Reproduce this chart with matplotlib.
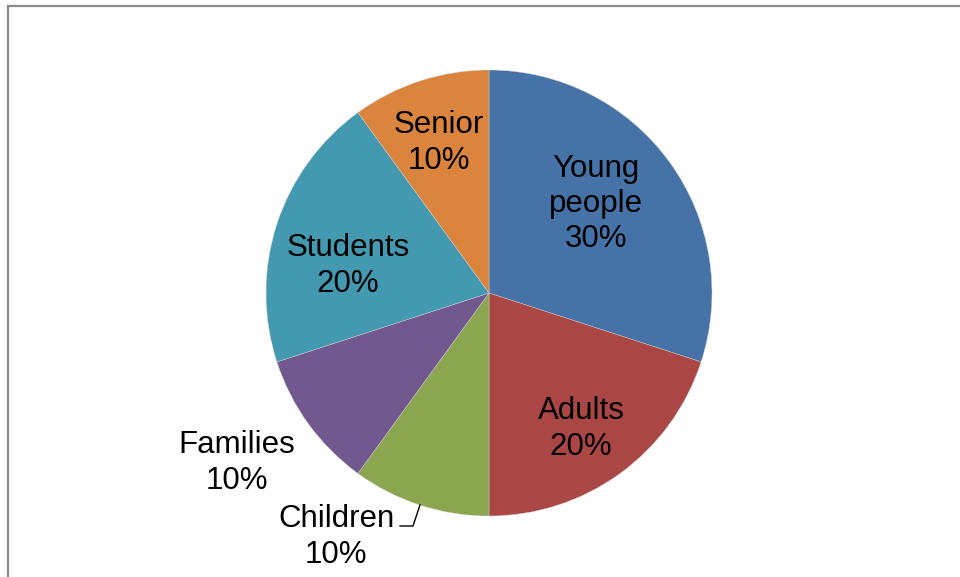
import matplotlib.pyplot as plt
from matplotlib.lines import Line2D

# audience shares
segments = ['Young\npeople', 'Adults', 'Children', 'Families', 'Students', 'Senior']
shares = [30, 20, 10, 10, 20, 10]
colors = ['#4673A7', '#AA4644', '#8AA64F', '#71588F', '#4399B0', '#DB843D']

# label anchor points (pixels from top-left)
label_xy = [(596, 204), (581, 429), (336, 537), (237, 463), (348, 266), (439, 143)]

W, H = 960, 577
fig = plt.figure(figsize=(W / 100, H / 100), dpi=100)
ax = fig.add_axes([0, 0, 1, 1])

cx, cy, r = 489, H - 293, 223
ax.pie(shares, colors=colors, startangle=90, counterclock=False,
       center=(cx, cy), radius=r, frame=True,
       wedgeprops=dict(edgecolor='#d0d0d0', linewidth=0.3))
ax.set_xlim(0, W)
ax.set_ylim(0, H)
ax.set_aspect('equal')
ax.axis('off')

for name, val, (x, y) in zip(segments, shares, label_xy):
    ax.text(x, H - y, f'{name}\n{val}%', ha='center', va='center',
            fontsize=22.5, family='Liberation Sans', color='black',
            linespacing=1.22)

# leader line for the Children label
ax.plot([400, 413, 420], [H - 526, H - 526, H - 505], color='black', lw=1)

# chart frame (top and left edges)
fig.add_artist(Line2D([8 / W, 1], [1 - 6 / H, 1 - 6 / H], color='#8c8c8c', lw=1.6,
                      transform=fig.transFigure))
fig.add_artist(Line2D([8 / W, 8 / W], [0, 1 - 6 / H], color='#8c8c8c', lw=1.6,
                      transform=fig.transFigure))

fig.savefig('out.png', dpi=100, facecolor='white')
